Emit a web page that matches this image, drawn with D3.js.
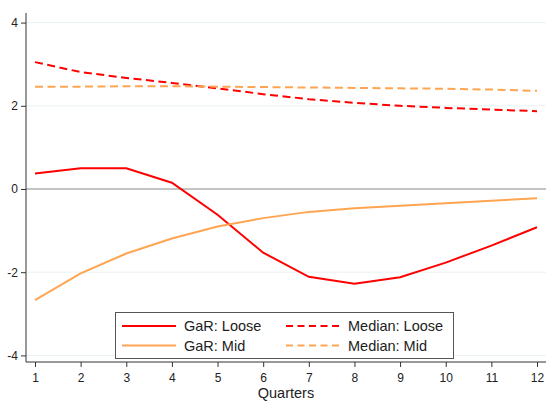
<!DOCTYPE html>
<html>
<head>
<meta charset="utf-8">
<script src="https://cdn.jsdelivr.net/npm/d3@7"></script>
<style>
  html, body { margin: 0; padding: 0; background: #fff; }
  svg { display: block; font-family: "Liberation Sans", Arial, sans-serif; }
</style>
</head>
<body>
<svg id="chart" width="551" height="402"></svg>
<script>
// Horizon in quarters
const quarters = [1, 2, 3, 4, 5, 6, 7, 8, 9, 10, 11, 12];

// Growth-at-risk and median paths by financial-conditions regime
const garLoose    = [0.37, 0.50, 0.50, 0.15, -0.62, -1.53, -2.11, -2.28, -2.12, -1.77, -1.36, -0.92];
const garMid      = [-2.67, -2.03, -1.55, -1.19, -0.90, -0.70, -0.55, -0.46, -0.40, -0.34, -0.28, -0.22];
const medianLoose = [3.05, 2.81, 2.67, 2.55, 2.42, 2.28, 2.16, 2.07, 2.00, 1.95, 1.91, 1.87];
const medianMid   = [2.46, 2.46, 2.47, 2.47, 2.46, 2.45, 2.44, 2.43, 2.42, 2.41, 2.39, 2.36];

const yTicks = [-4, -2, 0, 2, 4];
const xLabel = "Quarters";

const series = [
  { name: "GaR: Loose",    values: garLoose,    color: "#ff0000", dash: null },
  { name: "GaR: Mid",      values: garMid,      color: "#ffa552", dash: null },
  { name: "Median: Loose", values: medianLoose, color: "#ff0000", dash: "8,4.5" },
  { name: "Median: Mid",   values: medianMid,   color: "#ffa552", dash: "8,4.5" }
];

const FONT = "'Liberation Sans', Arial, sans-serif";
const svg = d3.select("#chart");
const plotL = 26, plotR = 546, plotT = 13, plotB = 362;

const x = d3.scaleLinear().domain([1, 12]).range([35, 537]);
const y = d3.scaleLinear().domain([-4, 4]).range([355.4, 22.6]);

// light gridlines
svg.append("g").selectAll("line")
  .data(yTicks.filter(d => d !== 0))
  .join("line")
  .attr("x1", plotL).attr("x2", plotR)
  .attr("y1", d => y(d)).attr("y2", d => y(d))
  .attr("stroke", "#eaf1f1").attr("stroke-width", 1);

// zero reference line
svg.append("line")
  .attr("x1", plotL).attr("x2", plotR)
  .attr("y1", y(0)).attr("y2", y(0))
  .attr("stroke", "#8a8a8a").attr("stroke-width", 1.2);

// y axis (plain hyphen for negatives)
const yAxis = svg.append("g")
  .attr("transform", `translate(${plotL},0)`)
  .call(d3.axisLeft(y).tickValues(yTicks).tickSize(5).tickPadding(3).tickFormat(d => String(d)));
yAxis.select(".domain").attr("d", `M0,${plotT}V${plotB}`).attr("stroke", "#333");
yAxis.selectAll(".tick line").attr("stroke", "#333");
yAxis.selectAll("text").attr("font-size", 12).attr("fill", "#222").attr("font-family", FONT);

// x axis
const xAxis = svg.append("g")
  .attr("transform", `translate(0,${plotB})`)
  .call(d3.axisBottom(x).tickValues(quarters).tickSize(5).tickPadding(6).tickFormat(d => String(d)));
xAxis.select(".domain").attr("d", `M${plotL},0H${plotR}`).attr("stroke", "#333");
xAxis.selectAll(".tick line").attr("stroke", "#333");
xAxis.selectAll("text").attr("font-size", 12).attr("fill", "#222").attr("font-family", FONT);

svg.append("text")
  .attr("x", 286).attr("y", 398)
  .attr("text-anchor", "middle")
  .attr("font-size", 14.5).attr("fill", "#222").attr("font-family", FONT)
  .text(xLabel);

// series lines
const line = d3.line().x((d, i) => x(quarters[i])).y(d => y(d));
svg.append("g").selectAll("path")
  .data(series)
  .join("path")
  .attr("d", s => line(s.values))
  .attr("fill", "none")
  .attr("stroke", s => s.color)
  .attr("stroke-width", 2)
  .attr("stroke-dasharray", s => s.dash);

// legend
const lg = svg.append("g");
lg.append("rect")
  .attr("x", 115.5).attr("y", 312.5).attr("width", 338).attr("height", 46)
  .attr("fill", "#fff").attr("stroke", "#555").attr("stroke-width", 1);
const cols = [122, 286];
const rows = [326, 345.5];
const order = [0, 2, 1, 3];
order.forEach((si, k) => {
  const s = series[si];
  const cx = cols[k % 2], cy = rows[Math.floor(k / 2)];
  lg.append("line")
    .attr("x1", cx).attr("x2", cx + 54)
    .attr("y1", cy).attr("y2", cy)
    .attr("stroke", s.color).attr("stroke-width", 2)
    .attr("stroke-dasharray", s.dash ? "7,4.5" : null);
  lg.append("text")
    .attr("x", cx + 62).attr("y", cy + 5)
    .attr("font-size", 14.5).attr("fill", "#222").attr("font-family", FONT)
    .text(s.name);
});
</script>
</body>
</html>
